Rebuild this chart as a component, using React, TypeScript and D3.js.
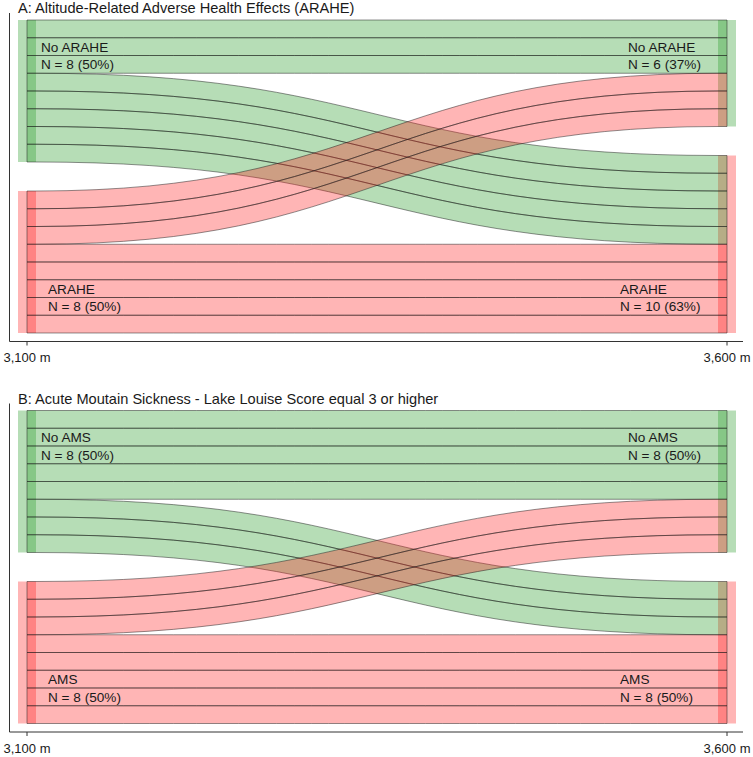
import * as d3 from "d3";

const W = 753;
const H = 757;

const altitudes = ["3,100 m", "3,600 m"];

// panel A, one entry per participant
const arahe3100 = [
  "No ARAHE", "No ARAHE", "No ARAHE", "No ARAHE", "No ARAHE", "No ARAHE", "No ARAHE", "No ARAHE",
  "ARAHE", "ARAHE", "ARAHE", "ARAHE", "ARAHE", "ARAHE", "ARAHE", "ARAHE",
];
const arahe3600 = [
  "No ARAHE", "No ARAHE", "No ARAHE", "ARAHE", "ARAHE", "ARAHE", "ARAHE", "ARAHE",
  "No ARAHE", "No ARAHE", "No ARAHE", "ARAHE", "ARAHE", "ARAHE", "ARAHE", "ARAHE",
];
const araheLevels = ["No ARAHE", "ARAHE"];
const arahePct3100 = [50, 50];
const arahePct3600 = [37, 63];

// panel B
const ams3100 = [
  "No AMS", "No AMS", "No AMS", "No AMS", "No AMS", "No AMS", "No AMS", "No AMS",
  "AMS", "AMS", "AMS", "AMS", "AMS", "AMS", "AMS", "AMS",
];
const ams3600 = [
  "No AMS", "No AMS", "No AMS", "No AMS", "No AMS", "AMS", "AMS", "AMS",
  "No AMS", "No AMS", "No AMS", "AMS", "AMS", "AMS", "AMS", "AMS",
];
const amsLevels = ["No AMS", "AMS"];
const amsPct3100 = [50, 50];
const amsPct3600 = [50, 50];

const fills = ["#2e9e2e", "#ff1a1a"];
const fillOpacity = [0.35, 0.32];

const halfW = 9;
const rowH = 17.75;
const gapPx = 29;

type PanelProps = {
  title: string;
  top: number;
  left3100: string[];
  right3600: string[];
  levels: string[];
  pctL: number[];
  pctR: number[];
};

function Panel({ title, top, left3100, right3600, levels, pctL, pctR }: PanelProps) {
  const n = left3100.length;
  const x = d3.scalePoint<string>().domain(altitudes).range([27, 727]);
  const gapUnits = gapPx / rowH;
  const yTop = top + 7;
  const y = d3
    .scaleLinear()
    .domain([0, n + gapUnits])
    .range([yTop, yTop + (n + gapUnits) * rowH]);
  const axisY = top + 328.5;

  const cols = [left3100, right3600];
  // position (in rows) of each participant at each axis
  const pos = cols.map((col, a) => {
    const other = cols[1 - a];
    const idx = d3.range(n).sort((i, j) => {
      const s = levels.indexOf(col[i]) - levels.indexOf(col[j]);
      if (s) return s;
      const o = levels.indexOf(other[i]) - levels.indexOf(other[j]);
      return o || i - j;
    });
    const out: number[] = new Array(n);
    idx.forEach((p, k) => {
      out[p] = k + levels.indexOf(col[p]) * gapUnits;
    });
    return out;
  });

  const strata = cols.map((col, a) =>
    levels.map((lv, s) => {
      const count = col.filter((v) => v === lv).length;
      const before = col.filter((v) => levels.indexOf(v) < s).length;
      const u0 = before + s * gapUnits;
      return { lv, s, count, y0: y(u0), y1: y(u0 + count), pct: (a === 0 ? pctL : pctR)[s] };
    }),
  );

  const xa = x(altitudes[0])!;
  const xb = x(altitudes[1])!;
  const xL = xa + halfW;
  const xR = xb - halfW;
  const xm = (xL + xR) / 2;

  const flows = d3.range(n).map((i) => {
    const a0 = y(pos[0][i]);
    const b0 = y(pos[0][i] + 1);
    const a1 = y(pos[1][i]);
    const b1 = y(pos[1][i] + 1);
    const p = d3.path();
    p.moveTo(xa, a0);
    p.lineTo(xL, a0);
    p.bezierCurveTo(xm, a0, xm, a1, xR, a1);
    p.lineTo(xb, a1);
    p.lineTo(xb, b1);
    p.lineTo(xR, b1);
    p.bezierCurveTo(xm, b1, xm, b0, xL, b0);
    p.lineTo(xa, b0);
    p.closePath();
    const s = levels.indexOf(left3100[i]);
    return { i, d: p.toString(), s };
  });

  const labelX = [
    [xa + 14, xa + 21],
    [xb - 99, xb - 107],
  ];

  return (
    <g>
      <text x={18} y={top + 0.3} fontSize={14.6} fill="#1a1a1a">
        {title}
      </text>
      {strata.map((col, a) =>
        col.map((st) => (
          <rect
            key={`st-${a}-${st.s}`}
            x={x(altitudes[a])! - halfW}
            y={st.y0}
            width={halfW * 2}
            height={st.y1 - st.y0}
            fill={fills[st.s]}
            fillOpacity={fillOpacity[st.s]}
          />
        )),
      )}
      {flows.map((f) => (
        <path
          key={`fl-${f.i}`}
          d={f.d}
          fill={fills[f.s]}
          fillOpacity={fillOpacity[f.s]}
          stroke="#1e1e1e"
          strokeOpacity={0.55}
          strokeWidth={0.9}
        />
      ))}
      {strata.map((col, a) =>
        col.map((st) => {
          const lx = labelX[a][st.s];
          const r1 = st.s === 0 ? st.y0 + rowH * 1.5 : st.y1 - rowH * 2.5;
          return (
            <g key={`lb-${a}-${st.s}`} fontSize={13.6} fill="#1a1a1a">
              <text x={lx} y={r1} dy="0.36em">
                {st.lv}
              </text>
              <text x={lx} y={r1 + rowH} dy="0.36em">
                {`N = ${st.count} (${st.pct}%)`}
              </text>
            </g>
          );
        }),
      )}
      <line x1={9.5} x2={9.5} y1={top} y2={axisY} stroke="#333" strokeWidth={1} />
      <line x1={9.5} x2={743} y1={axisY} y2={axisY} stroke="#333" strokeWidth={1} />
      {altitudes.map((alt) => (
        <g key={alt} transform={`translate(${x(alt)},${axisY})`}>
          <line y1={0} y2={4} stroke="#333" strokeWidth={1} />
          <text y={16} dy="0.36em" textAnchor="middle" fontSize={13} fill="#1a1a1a">
            {alt}
          </text>
        </g>
      ))}
    </g>
  );
}

export default function App() {
  return (
    <svg
      width={W}
      height={H}
      style={{ position: "absolute", left: 0, top: 0, background: "#fff" }}
      fontFamily="'Liberation Sans', Arial, sans-serif"
    >
      <rect width={W} height={H} fill="#fff" />
      <Panel
        title="A: Altitude-Related Adverse Health Effects (ARAHE)"
        top={13}
        left3100={arahe3100}
        right3600={arahe3600}
        levels={araheLevels}
        pctL={arahePct3100}
        pctR={arahePct3600}
      />
      <Panel
        title="B: Acute Moutain Sickness - Lake Louise Score equal 3 or higher"
        top={403.5}
        left3100={ams3100}
        right3600={ams3600}
        levels={amsLevels}
        pctL={amsPct3100}
        pctR={amsPct3600}
      />
    </svg>
  );
}
